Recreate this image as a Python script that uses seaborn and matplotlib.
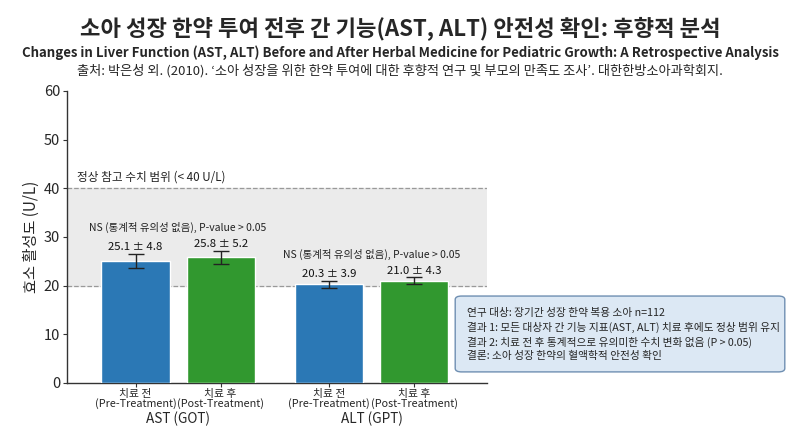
import numpy as np
import pandas as pd
import matplotlib
matplotlib.use("Agg")
import matplotlib.pyplot as plt
import matplotlib.transforms as mtransforms
from matplotlib.patches import FancyBboxPatch
import seaborn as sns

# ---------------- data ----------------
groups = ["AST (GOT)", "ALT (GPT)"]
phases = ["치료 전\n(Pre-Treatment)", "치료 후\n(Post-Treatment)"]
means_pre = [25.1, 20.3]
means_post = [25.8, 21.0]
sd_pre = [4.8, 3.9]
sd_post = [5.2, 4.3]
err_pre = [1.5, 0.7]     # drawn error-bar half-lengths
err_post = [1.35, 0.7]
ns_text = "NS (통계적 유의성 없음), P-value > 0.05"
ref_text = "정상 참고 수치 범위 (< 40 U/L)"
ref_low, ref_high = 20, 40
yticks = [0, 10, 20, 30, 40, 50, 60]
title = "소아 성장 한약 투여 전후 간 기능(AST, ALT) 안전성 확인: 후향적 분석"
subtitle = "Changes in Liver Function (AST, ALT) Before and After Herbal Medicine for Pediatric Growth: A Retrospective Analysis"
source = "출처: 박은성 외. (2010). ‘소아 성장을 위한 한약 투여에 대한 후향적 연구 및 부모의 만족도 조사’. 대한한방소아과학회지."
box_lines = [
    "연구 대상: 장기간 성장 한약 복용 소아 n=112",
    "결과 1: 모든 대상자 간 기능 지표(AST, ALT) 치료 후에도 정상 범위 유지",
    "결과 2: 치료 전 후 통계적으로 유의미한 수치 변화 없음 (P > 0.05)",
    "결론: 소아 성장 한약의 혈액학적 안전성 확인",
]
colors = ["#2b78b5", "#31982f"]

df = pd.DataFrame({
    "group": groups * 2,
    "phase": [phases[0]] * 2 + [phases[1]] * 2,
    "value": means_pre + means_post,
})

sns.set_theme(style="white")
plt.rcParams["font.family"] = ["Noto Sans CJK KR", "DejaVu Sans"]

fig = plt.figure(figsize=(8, 4.36), dpi=100)
ax = fig.add_axes([0.084, 0.1216, 0.525, 0.6697])

sns.barplot(data=df, x="group", y="value", hue="phase", order=groups,
            hue_order=phases, palette=colors, saturation=1, width=0.88, gap=0.2,
            errorbar=None, legend=False, ax=ax, zorder=3)

ax.set_xlim(-0.573, 1.597)
ax.set_ylim(0, 60)
ax.set_yticks(yticks)
ax.tick_params(axis="y", labelsize=10.5, length=3, width=0.8, color="#333333",
               left=True, pad=2)
ax.tick_params(axis="x", labelsize=7.8, length=3, width=0.8, color="#333333",
               bottom=True, pad=1)

# reference band
ax.axhspan(ref_low, ref_high, color="#ebebeb", zorder=0)
for yv in (ref_low, ref_high):
    ax.axhline(yv, color="#999999", ls="--", lw=0.9, zorder=1)
ax.text(-0.52, ref_high + 1.0, ref_text, fontsize=8.4, ha="left", va="bottom",
        color="#222222")

# error bars & labels
errs = [err_pre, err_post]
sds = [sd_pre, sd_post]
centers = []
tops = {}
bar_containers = list(ax.containers)
for hi, cont in enumerate(bar_containers):
    for gi, bar in enumerate(cont.patches):
        cx = bar.get_x() + bar.get_width() / 2
        h = bar.get_height()
        e = errs[hi][gi]
        ax.errorbar(cx, h, yerr=e, fmt="none", ecolor="#222222", elinewidth=1,
                    capsize=6, capthick=1, zorder=4)
        ax.text(cx, h + e + 0.3, f"{h:.1f} ± {sds[hi][gi]:.1f}", ha="center",
                va="bottom", fontsize=8.2, color="#111111", zorder=5)
        centers.append((cx, phases[hi], gi))
        tops.setdefault(gi, []).append(h + e)

centers.sort()
ax.set_xticks([c[0] for c in centers])
ax.set_xticklabels([c[1] for c in centers], linespacing=0.9)
ax.set_xlabel("")
ax.set_ylabel("효소 활성도 (U/L)", fontsize=11, labelpad=3)

trans = mtransforms.blended_transform_factory(ax.transData, ax.transAxes)
for gi, g in enumerate(groups):
    xs = [c[0] for c in centers if c[2] == gi]
    gc = np.mean(xs)
    ax.text(gc, -0.123, g, transform=trans, ha="center", va="center", fontsize=9.8)
    ax.text(gc, max(tops[gi]) + 4.8, ns_text, ha="center", va="center", fontsize=7.5,
            color="#222222", zorder=5)

for s in ["top", "right"]:
    ax.spines[s].set_visible(False)
for s in ["left", "bottom"]:
    ax.spines[s].set_color("#333333")
    ax.spines[s].set_linewidth(1)

# titles
fig.text(0.5, 0.933, title, ha="center", va="center", fontsize=16, fontweight="bold")
fig.text(0.5, 0.880, subtitle, ha="center", va="center", fontsize=9.5, fontweight="bold")
fig.text(0.5, 0.837, source, ha="center", va="center", fontsize=9.5)

# info box
box = FancyBboxPatch((0.569, 0.147), 0.412, 0.174, transform=fig.transFigure,
                     boxstyle="round,pad=0,rounding_size=0.008", facecolor="#dce8f4",
                     edgecolor="#6f8fb2", linewidth=1, zorder=10)
fig.patches.append(box)
fig.text(0.584, 0.232, "\n".join(box_lines), ha="left", va="center", fontsize=7.7,
         linespacing=1.42, zorder=11)

fig.savefig("out.png", dpi=100)
